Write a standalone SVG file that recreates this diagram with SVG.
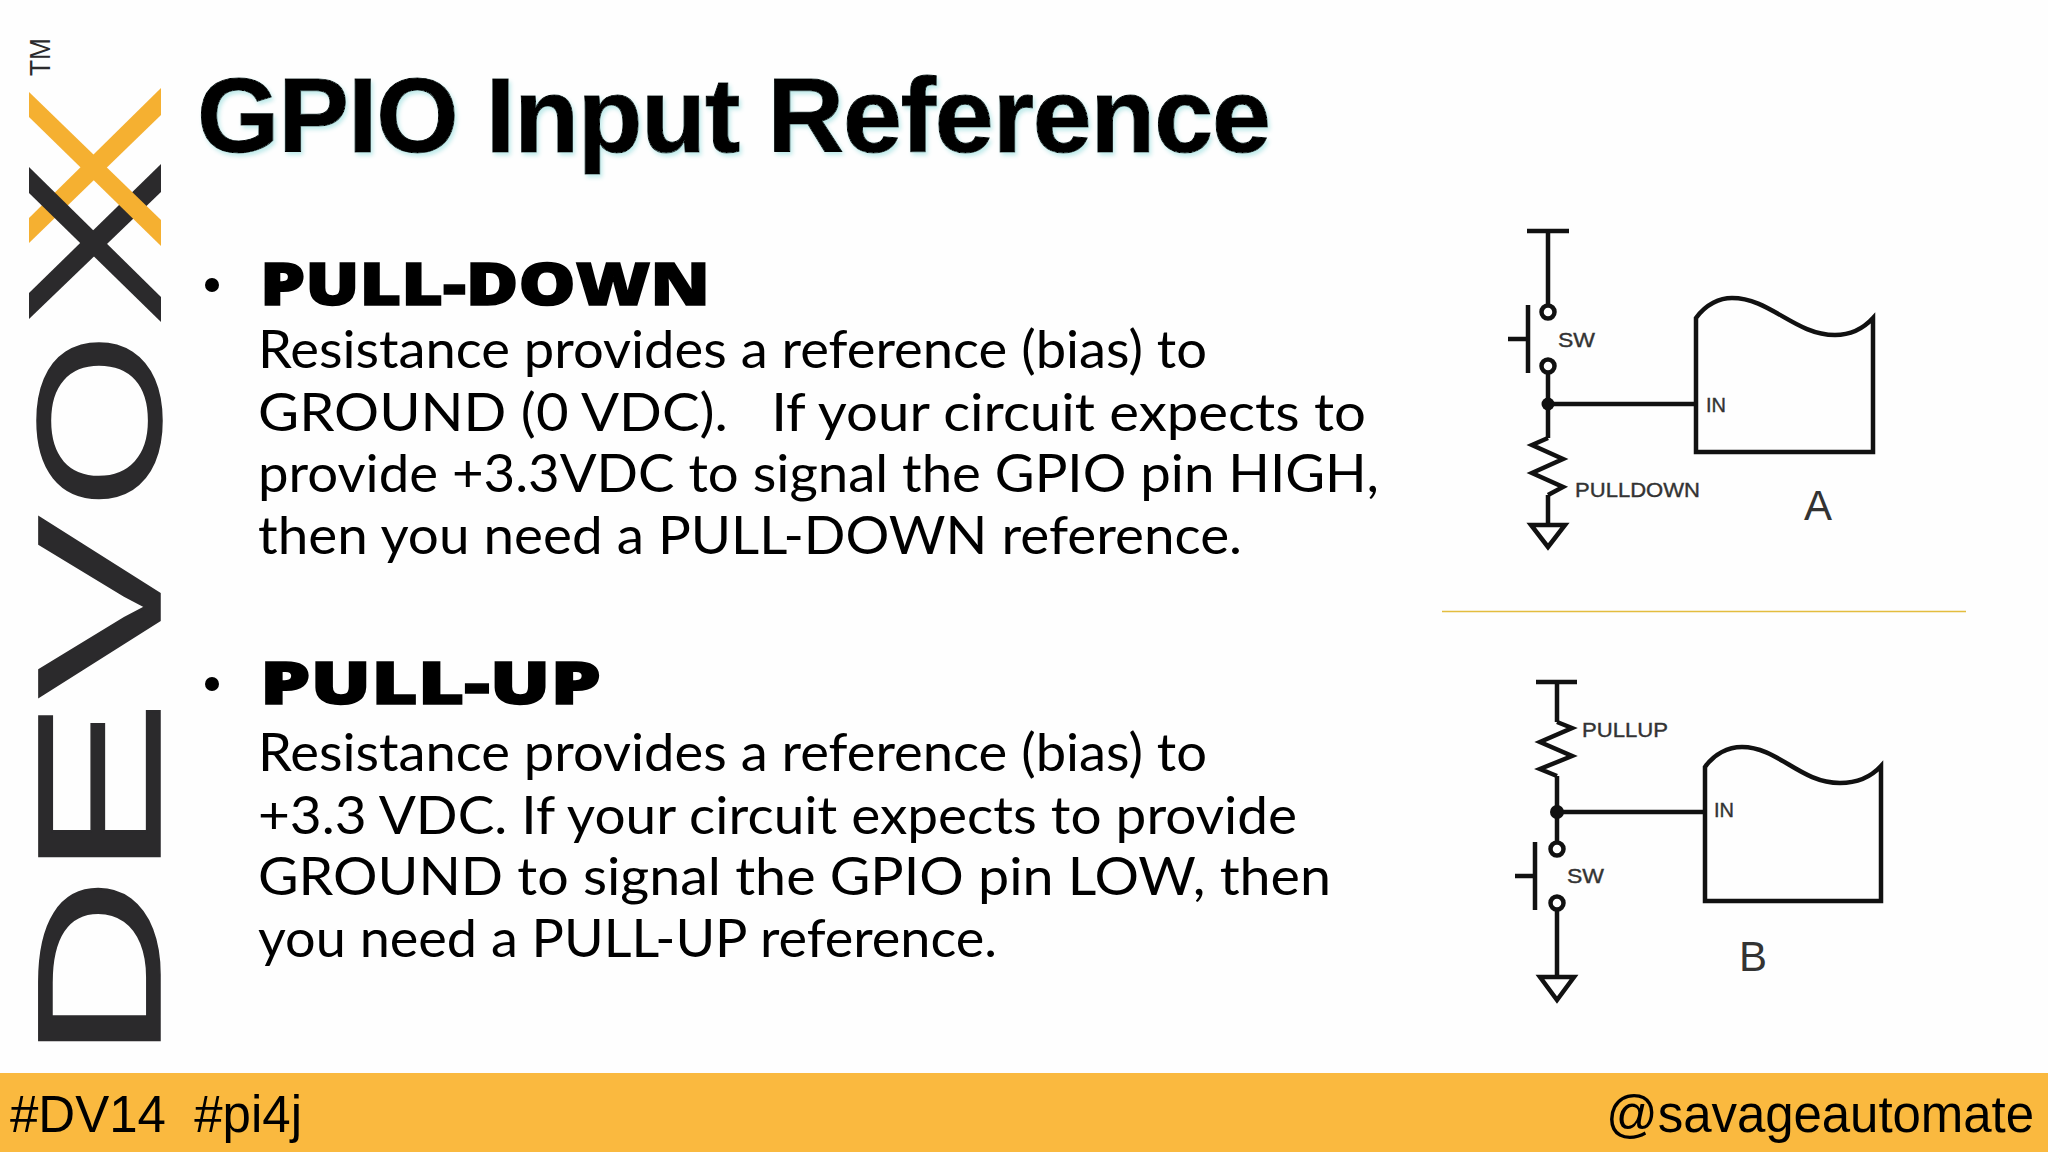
<svg xmlns="http://www.w3.org/2000/svg" width="2048" height="1152" viewBox="0 0 2048 1152">
<style>
text{white-space:pre}
.logo{font-family:"Liberation Sans",Arial,sans-serif;font-size:176px;fill:#2b2a2c;stroke:#2b2a2c;stroke-width:1.500}
.tm{font-family:"Liberation Sans",Arial,sans-serif;font-size:29px;fill:#2b2a2c}
.title{font-family:"Liberation Sans",Arial,sans-serif;font-weight:700;font-size:106px;fill:#000;stroke:#000;stroke-width:1}
.head{font-family:"Open Sans",Lato,sans-serif;font-weight:800;font-size:59px;fill:#000;stroke:#000;stroke-width:1.500}
.body{font-family:Lato,"Open Sans",sans-serif;font-size:52px;fill:#000}
.foot{font-family:"Liberation Sans",Arial,sans-serif;font-size:51px;fill:#000}
.cap{font-family:"Liberation Sans",Arial,sans-serif;font-size:21px;fill:#333;stroke:#333;stroke-width:.4}
.big{font-family:"Liberation Sans",Arial,sans-serif;font-size:42px;fill:#333}
.w{fill:none;stroke:#111;stroke-width:4.500;stroke-linejoin:miter}
.o{fill:#fff;stroke:#111;stroke-width:4.500}
</style>
<defs>
<filter id="soft" x="-5%" y="-20%" width="110%" height="140%"><feDropShadow dx="2" dy="3" stdDeviation="2" flood-color="#bfeaea"/></filter>
</defs>
<rect width="2048" height="1152" fill="#fefefe"/>

<g id="logo">
<text class="logo" transform="translate(160,1061) rotate(-90) scale(1.45,1)">D</text>
<text class="logo" transform="translate(160,878) rotate(-90) scale(1.52,1)">E</text>
<text class="logo" transform="translate(160,698) rotate(-90) scale(1.55,1)">V</text>
<text class="logo" transform="translate(160,509) rotate(-90) scale(1.29,1)">O</text>
<polygon points="29,218 29,243 161,115 161,88" fill="#f5b031"/>
<polygon points="29,293 29,319 161,192 161,164" fill="#2b2a2c"/>
<polygon points="29,167 29,193 161,322 161,297" fill="#2b2a2c"/>
<polygon points="29,92 29,117 161,246 161,220" fill="#f5b031"/>
<text class="tm" transform="translate(50,76) rotate(-90)" textLength="38" lengthAdjust="spacingAndGlyphs">TM</text>
</g>

<g id="title"><text class="title" x="197" y="152" textLength="1074" lengthAdjust="spacing" filter="url(#soft)">GPIO Input Reference</text></g>

<g id="pulldown-text">
<circle cx="212" cy="285" r="7" fill="#000"/>
<text class="head" x="260" y="305" textLength="450" lengthAdjust="spacingAndGlyphs">PULL-DOWN</text>
<text class="body" x="258" y="368" textLength="949" lengthAdjust="spacingAndGlyphs">Resistance provides a reference (bias) to</text>
<text class="body" x="258" y="431" textLength="1108" lengthAdjust="spacingAndGlyphs">GROUND (0 VDC).   If your circuit expects to</text>
<text class="body" x="258" y="492" textLength="1121" lengthAdjust="spacingAndGlyphs">provide +3.3VDC to signal the GPIO pin HIGH,</text>
<text class="body" x="258" y="554" textLength="984" lengthAdjust="spacingAndGlyphs">then you need a PULL-DOWN reference.</text>
</g>

<g id="pullup-text">
<circle cx="212" cy="684" r="7" fill="#000"/>
<text class="head" x="260" y="704" textLength="341" lengthAdjust="spacingAndGlyphs">PULL-UP</text>
<text class="body" x="258" y="771" textLength="949" lengthAdjust="spacingAndGlyphs">Resistance provides a reference (bias) to</text>
<text class="body" x="258" y="834" textLength="1039" lengthAdjust="spacingAndGlyphs">+3.3 VDC. If your circuit expects to provide</text>
<text class="body" x="258" y="895" textLength="1073" lengthAdjust="spacingAndGlyphs">GROUND to signal the GPIO pin LOW, then</text>
<text class="body" x="258" y="957" textLength="739" lengthAdjust="spacingAndGlyphs">you need a PULL-UP reference.</text>
</g>

<g id="connectors">
<path class="w" d="M1548 231V306M1548 373V438M1548 404H1696M1548 495V525"/>
<path class="w" d="M1557 682V722M1557 776V843M1557 812H1705M1557 910V977"/>
</g>

<g id="divider"><line x1="1442" y1="611.500" x2="1966" y2="611.500" stroke="#e3bd3f" stroke-width="1.500"/></g>

<g id="circuit-a">
<g id="a-supply"><path class="w" d="M1527 231H1569"/></g>
<g id="a-switch">
<circle class="o" cx="1548" cy="312" r="6.500"/><circle class="o" cx="1548" cy="366" r="6.500"/>
<path class="w" d="M1528 305V373M1508 339H1528"/>
<text class="cap" x="1558" y="347" textLength="37" lengthAdjust="spacingAndGlyphs">SW</text>
</g>
<g id="a-node"><circle cx="1548" cy="404" r="6.500" fill="#111"/></g>
<g id="a-resistor">
<polyline class="w" points="1548,438 1532,445 1563,459 1532,473 1563,487 1548,495"/>
<text class="cap" x="1575" y="497" textLength="125" lengthAdjust="spacingAndGlyphs">PULLDOWN</text>
</g>
<g id="a-ground"><polygon class="w" points="1531,525 1565,525 1548,547"/></g>
<g id="a-chip">
<path class="w" d="M1696 318C1706 304 1720 298 1732 298C1770 298 1795 335 1835 335C1850 335 1862 330 1873 318V452H1696Z"/>
<text class="cap" x="1706" y="412" textLength="20" lengthAdjust="spacingAndGlyphs">IN</text>
<text class="big" x="1804" y="520">A</text>
</g>
</g>

<g id="circuit-b">
<g id="b-supply"><path class="w" d="M1536 682H1577"/></g>
<g id="b-resistor">
<polyline class="w" points="1557,722 1572,728 1540,742 1572,756 1540,769 1557,776"/>
<text class="cap" x="1582" y="737" textLength="86" lengthAdjust="spacingAndGlyphs">PULLUP</text>
</g>
<g id="b-node"><circle cx="1557" cy="812" r="7" fill="#111"/></g>
<g id="b-switch">
<circle class="o" cx="1557" cy="849" r="6.500"/><circle class="o" cx="1557" cy="903" r="6.500"/>
<path class="w" d="M1535 842V910M1515 876H1535"/>
<text class="cap" x="1567" y="883" textLength="37" lengthAdjust="spacingAndGlyphs">SW</text>
</g>
<g id="b-ground"><polygon class="w" points="1540,977 1574,977 1557,1000"/></g>
<g id="b-chip">
<path class="w" d="M1705 767C1714 754 1728 747 1742 747C1778 747 1800 783 1840 783C1855 783 1870 778 1881 766V901H1705Z"/>
<text class="cap" x="1714" y="817" textLength="20" lengthAdjust="spacingAndGlyphs">IN</text>
<text class="big" x="1739" y="971">B</text>
</g>
</g>

<g id="footer">
<rect y="1073" width="2048" height="79" fill="#fab93f"/>
<text class="foot" x="10" y="1132" textLength="292" lengthAdjust="spacing">#DV14  #pi4j</text>
<text class="foot" x="1606" y="1132" textLength="428" lengthAdjust="spacing">@savageautomate</text>
</g>
</svg>
